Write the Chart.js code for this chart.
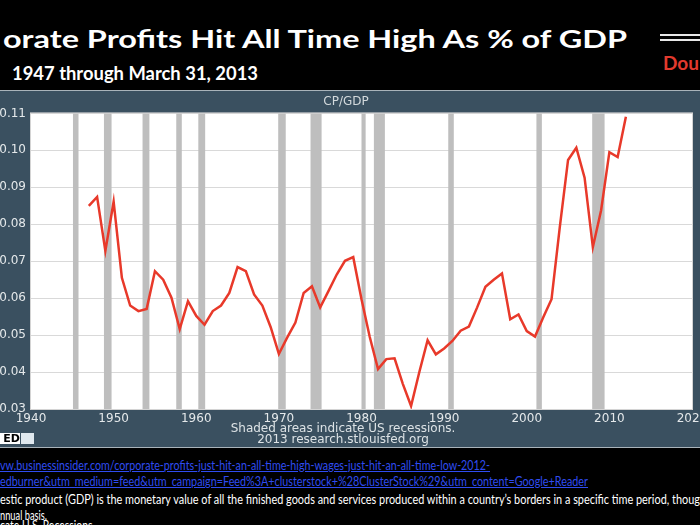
<!DOCTYPE html>
<html>
<head>
<meta charset="utf-8">
<script src="https://cdn.jsdelivr.net/npm/chart.js@4.4.0/dist/chart.umd.min.js"></script>
<style>
  html, body { margin: 0; padding: 0; background: #000; width: 700px; height: 525px; overflow: hidden; }
  body { position: relative; font-family: Lato, "Open Sans", sans-serif; }
  .t { position: absolute; white-space: nowrap; transform-origin: 0 0; line-height: 1; }
  #title { left: 3px; top: 26px; color: #fff; font-weight: bold; font-size: 25px; }
  #subtitle { left: 12px; top: 64px; color: #fff; font-weight: bold; font-size: 18px; }
  #brand { left: 663px; top: 53px; color: #e23a2e; font-weight: bold; font-size: 19px; }
  .dbl { position: absolute; left: 660px; width: 40px; height: 2px; background: #e8e8e8; }
  #panel { position: absolute; left: 0; top: 90px; width: 700px; height: 358px; background: #3a5060;
           border-top: 1px solid #a9b3ba; border-bottom: 1px solid #a9b3ba; box-sizing: border-box; }
  #panel canvas { position: absolute; left: 0; top: -1px; }
  .src { position: absolute; width: 700px; left: -7px; text-align: center; color: #dde3e6;
         font: 12px "DejaVu Sans", sans-serif; line-height: 1; }
  #fred { position: absolute; left: 0; top: 342px; height: 11px; width: 20px; background: #fff;
          font: bold 11px "DejaVu Sans", sans-serif; line-height: 11px; color: #000; text-align: right; }
  #fredicon { position: absolute; left: 21px; top: 342px; height: 11px; width: 13px; background: #dfe8ee; }
  .note { font-size: 13px; color: #fff; left: 0; }
  .link { color: #2f4cf0; text-decoration: underline; }
</style>
</head>
<body>
<div class="t" id="title" data-w="624">orate Profits Hit All Time High As % of GDP</div>
<div class="t" id="subtitle" data-w="246">1947 through March 31, 2013</div>
<div class="dbl" style="top:34px"></div>
<div class="dbl" style="top:39px"></div>
<div class="t" id="brand">Dou</div>

<div id="panel">
  <canvas id="cp-chart" width="700" height="358"></canvas>
  <div class="src" style="top:331px">Shaded areas indicate US recessions.</div>
  <div class="src" style="top:342px">2013 research.stlouisfed.org</div>
  <div id="fred">ED</div>
  <div id="fredicon"></div>
</div>

<div class="t note link" style="top:459px" data-w="490">vw.businessinsider.com/corporate-profits-just-hit-an-all-time-high-wages-just-hit-an-all-time-low-2012-</div>
<div class="t note link" style="top:475px" data-w="588">edburner&amp;utm_medium=feed&amp;utm_campaign=Feed%3A+clusterstock+%28ClusterStock%29&amp;utm_content=Google+Reader</div>
<div class="t note" style="top:493px" data-w="706">estic product (GDP) is the monetary value of all the finished goods and services produced within a country’s borders in a specific time period, though</div>
<div class="t note" style="top:509px" data-w="47">nnual basis.</div>
<div class="t note" style="top:519px" data-w="95">cate U.S. Recessions.</div>

<script>
/* CP/GDP annual line with NBER recession shading, FRED style. */
var years = [1947, 1948, 1949, 1950, 1951, 1952, 1953, 1954, 1955, 1956,
  1957, 1958, 1959, 1960, 1961, 1962, 1963, 1964, 1965, 1966,
  1967, 1968, 1969, 1970, 1971, 1972, 1973, 1974, 1975, 1976,
  1977, 1978, 1979, 1980, 1981, 1982, 1983, 1984, 1985, 1986,
  1987, 1988, 1989, 1990, 1991, 1992, 1993, 1994, 1995, 1996,
  1997, 1998, 1999, 2000, 2001, 2002, 2003, 2004, 2005, 2006,
  2007, 2008, 2009, 2010, 2011, 2012];
var cpGdp = [0.0850, 0.0874, 0.0728, 0.0861, 0.0655, 0.0580, 0.0565, 0.0571, 0.0673, 0.0650,
  0.0601, 0.0516, 0.0592, 0.0552, 0.0528, 0.0565, 0.0580, 0.0614, 0.0684, 0.0673,
  0.0610, 0.0580, 0.0522, 0.0449, 0.0493, 0.0534, 0.0614, 0.0632, 0.0575, 0.0619,
  0.0664, 0.0701, 0.0711, 0.0597, 0.0495, 0.0408, 0.0435, 0.0437, 0.0368, 0.0308,
  0.0400, 0.0486, 0.0448, 0.0464, 0.0484, 0.0512, 0.0523, 0.0575, 0.0631, 0.0650,
  0.0667, 0.0543, 0.0556, 0.0511, 0.0496, 0.0548, 0.0597, 0.0792, 0.0974, 0.1007,
  0.0926, 0.0738, 0.0838, 0.0995, 0.0982, 0.1091];
var recessionStart = [1945.08, 1948.83, 1953.50, 1957.58, 1960.25, 1969.92, 1973.83, 1980.00, 1981.50, 1990.50, 2001.17, 2007.92];
var recessionEnd   = [1945.75, 1949.75, 1954.33, 1958.25, 1961.08, 1970.83, 1975.17, 1980.50, 1982.83, 1991.17, 2001.83, 2009.42];
var xTicks = [1940, 1950, 1960, 1970, 1980, 1990, 2000, 2010, 2020];
var yTicks = [0.03, 0.04, 0.05, 0.06, 0.07, 0.08, 0.09, 0.10, 0.11];

(function () {
  "use strict";
  // squeeze/stretch the slide text to the widths in the picture
  document.querySelectorAll("[data-w]").forEach(function (el) {
    var w = el.getBoundingClientRect().width;
    if (w) el.style.transform = "scaleX(" + (Number(el.dataset.w) / w) + ")";
  });

  var tickFont = { family: "'DejaVu Sans', sans-serif", size: 12 };
  var tickColor = "#e4e8ea";

  var recessionShade = {
    id: "recessionShade",
    beforeDraw: function (chart) {
      var a = chart.chartArea, ctx = chart.ctx;
      ctx.save();
      ctx.fillStyle = "#ffffff";
      ctx.fillRect(a.left, a.top, a.right - a.left, a.bottom - a.top);
      ctx.restore();
    },
    beforeDatasetsDraw: function (chart) {
      var a = chart.chartArea, ctx = chart.ctx, x = chart.scales.x;
      ctx.save();
      ctx.fillStyle = "#bebebe";
      for (var i = 0; i < recessionStart.length; i++) {
        var x0 = x.getPixelForValue(recessionStart[i]);
        var x1 = x.getPixelForValue(recessionEnd[i]);
        ctx.fillRect(x0, a.top, x1 - x0, a.bottom - a.top);
      }
      ctx.strokeStyle = "#d4d4d4";
      ctx.lineWidth = 1;
      ctx.strokeRect(a.left - 0.5, a.top - 0.5, a.right - a.left + 1, a.bottom - a.top + 1);
      ctx.restore();
    },
  };

  new Chart(document.getElementById("cp-chart"), {
    type: "line",
    data: {
      datasets: [{
        label: "CP/GDP",
        data: years.map(function (y, i) { return { x: y, y: cpGdp[i] }; }),
        borderColor: "#e8392a",
        borderWidth: 2.5,
        pointRadius: 0,
        tension: 0,
        fill: false,
      }],
    },
    options: {
      responsive: false,
      animation: false,
      devicePixelRatio: 1,
      layout: { padding: { top: 21, right: 8, left: 0, bottom: 0 } },
      scales: {
        x: {
          type: "linear",
          min: 1940,
          max: 2020,
          afterBuildTicks: function (s) { s.ticks = xTicks.map(function (v) { return { value: v }; }); },
          afterFit: function (s) { s.height = 39; s.paddingLeft = 0; s.paddingRight = 0; },
          grid: { display: false },
          border: { display: false },
          ticks: {
            color: tickColor, font: tickFont, padding: -5, maxRotation: 0, autoSkip: false,
            callback: function (v) { return String(v); },
          },
        },
        y: {
          min: 0.03,
          max: 0.11,
          afterBuildTicks: function (s) { s.ticks = yTicks.map(function (v) { return { value: v }; }); },
          afterFit: function (s) { s.width = 31; s.paddingTop = 0; s.paddingBottom = 0; },
          grid: { color: "#d9d9d9", drawTicks: false },
          border: { display: false },
          ticks: {
            color: tickColor, font: tickFont, padding: 5,
            callback: function (v) { return Number(v).toFixed(2); },
          },
        },
      },
      plugins: {
        legend: { display: false },
        tooltip: { enabled: false },
        title: {
          display: true,
          text: "CP/GDP",
          color: "#d3d9dc",
          font: { family: "'DejaVu Sans', sans-serif", size: 12, weight: "normal" },
          padding: { top: -16, bottom: 4 },
        },
      },
    },
    plugins: [recessionShade],
  });
})();
</script>
</body>
</html>
